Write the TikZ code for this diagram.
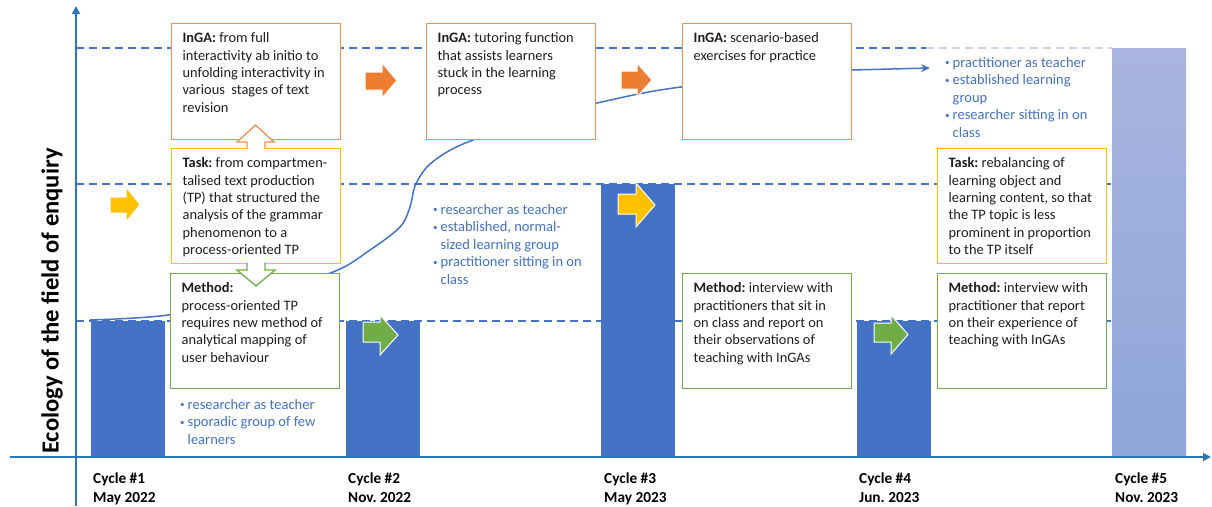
\documentclass[tikz,border=0pt]{standalone}
\usepackage{fontspec}
\setmainfont{Carlito}
\usetikzlibrary{arrows.meta}
\frenchspacing
\definecolor{barblue}{RGB}{68,114,196}
\definecolor{axisblue}{RGB}{46,117,182}
\definecolor{obord}{RGB}{241,144,86}
\definecolor{ofill}{RGB}{237,125,49}
\definecolor{ybord}{RGB}{255,192,0}
\definecolor{gbord}{RGB}{112,173,71}
\definecolor{txt}{RGB}{30,30,30}
\definecolor{bultxt}{RGB}{68,114,196}
\definecolor{lightdash}{RGB}{200,213,240}
\definecolor{cfivetop}{RGB}{169,181,222}
\definecolor{cfivebot}{RGB}{142,166,218}
\newcommand\boxfont{\fontsize{14.4}{17.35}\selectfont}
\newcommand\bulfont{\fontsize{14.5}{17.5}\selectfont}
\newcommand\cycfont{\bfseries\fontsize{15.3}{19}\selectfont}
\newcommand\boxtext[2]{\parbox[c][#1pt][t]{147pt}{\begin{tabular}[t]{@{}l@{}}#2\end{tabular}}}
\newcommand\bul{\makebox[7.5pt][l]{\fontsize{9}{9}\selectfont\raisebox{1.5pt}{•}}}
\newcommand\bulind{\hspace*{7.5pt}}
\newcommand\blockarrow[8]{%
  \fill[#8, draw=white, line width=1pt] (#1,#6) -- (#3,#6) -- (#3,#4) -- (#2,{(#4+#5)/2}) -- (#3,#5) -- (#3,#7) -- (#1,#7) -- cycle;}
\begin{document}
\begin{tikzpicture}[x=1pt,y=-1pt,
  dashln/.style={barblue, line width=1.2pt, dash pattern=on 8pt off 5pt},
  axisln/.style={axisblue, line width=1.8pt, -{Triangle[length=8pt,width=8pt]}},
  tbox/.style={line width=1.3pt, fill=white, anchor=north west, inner xsep=11pt, inner ysep=7pt, text=txt, font=\boxfont},
  barfill/.style={fill=barblue},
  bullist/.style={anchor=base west, inner sep=0pt, text=bultxt, font=\bulfont},
  cyclab/.style={anchor=base west, inner sep=0pt, text=black, font=\cycfont},
  curveln/.style={barblue, line width=1.5pt, -{Stealth[length=9pt,width=8pt]}}
]
\useasboundingbox (0,0) rectangle (1212,506);
\fill[white] (0,0) rectangle (1212,506);

% dashed levels
\draw[dashln] (76,48) -- (926,48);
\draw[dashln, draw=lightdash] (926,48) -- (1112,48);
\draw[dashln] (76,184) -- (1112,184);
\draw[dashln] (76,321) -- (1112,321);

% bars
\fill[barfill] (91,321) rectangle (165,457);
\fill[barfill] (346,321) rectangle (420,457);
\fill[barfill] (601,184) rectangle (675,457);
\fill[barfill] (857,321) rectangle (931,457);
\shade[top color=cfivetop, bottom color=cfivebot] (1112,48) rectangle (1186,457);

% development curve
\coordinate (cs) at (90,320);
\coordinate (ce) at (930,68);
\draw[curveln] plot[smooth, tension=0.55] coordinates {(cs) (168,315) (250,297) (333,272) (370,250) (400,227) (410,207) (415,186) (427,167) (447,152) (473,140) (535,118) (597,103) (681,87) (852,70)} -- (ce);

% boxes
\node[tbox, draw=obord] (inga1) at (171,23) {\boxtext{102}{\textbf{InGA:} from full\\interactivity ab initio to\\unfolding interactivity in\\various\ \ stages of text\\revision}};
\node[tbox, draw=ybord] (task1) at (171,148) {\boxtext{101}{\textbf{Task:} from compartmen-\\talised text production\\(TP) that structured the\\analysis of the grammar\\phenomenon to a\\process-oriented TP}};
\node[tbox, draw=gbord] (meth1) at (170,273) {\boxtext{101}{\textbf{Method:}\\process-oriented TP\\requires new method of\\analytical mapping of\\user behaviour}};
\node[tbox, draw=obord] (inga2) at (426,23) {\boxtext{102}{\textbf{InGA:} tutoring function\\that assists learners\\stuck in the learning\\process}};
\node[tbox, draw=obord] (inga3) at (682,23) {\boxtext{102}{\textbf{InGA:} scenario-based\\exercises for practice}};
\node[tbox, draw=gbord] (meth2) at (682,273) {\boxtext{101}{\textbf{Method:} interview with\\practitioners that sit in\\on class and report on\\their observations of\\teaching with InGAs}};
\node[tbox, draw=ybord] (task2) at (937,148) {\boxtext{101}{\textbf{Task:} rebalancing of\\learning object and\\learning content, so that\\the TP topic is less\\prominent in proportion\\to the TP itself}};
\node[tbox, draw=gbord] (meth3) at (937,273) {\boxtext{101}{\textbf{Method:} interview with\\practitioner that report\\on their experience of\\teaching with InGAs}};

% hollow arrows between boxes
\fill[white] (247,150) -- (247,142) -- (237,142) -- (255.5,125) -- (274,142) -- (265,142) -- (265,150) -- cycle;
\draw[obord, line width=1.3pt] (247,148.6) -- (247,142) -- (237,142) -- (255.5,125) -- (274,142) -- (265,142) -- (265,148.6);
\fill[white] (247,262) -- (247,270) -- (237,270) -- (256,286) -- (275,270) -- (265,270) -- (265,262) -- cycle;
\draw[gbord, line width=1.3pt] (247,262.5) -- (247,270) -- (237,270) -- (256,286) -- (275,270) -- (265,270) -- (265,262.5);

% block arrows
\blockarrow{110}{140}{126}{187}{222}{197}{213}{ybord}
\blockarrow{365}{397}{382}{63}{98}{72}{90}{ofill}
\blockarrow{621}{652}{637}{63}{97}{71}{89}{ofill}
\blockarrow{618}{655}{636}{183}{227}{194}{214}{ybord}
\blockarrow{363}{398}{380}{315}{355}{322}{342}{gbord}
\blockarrow{874}{908}{891}{315}{354}{323}{342}{gbord}

% bullet lists
\node[bullist] (bul1) at (180,409) {\parbox[t]{170pt}{\raggedright\bul researcher as teacher\\\bul sporadic group of few\\\bulind learners}};
\node[bullist] (bul2) at (433,214) {\parbox[t]{170pt}{\raggedright\bul researcher as teacher\\\bul established, normal-\\\bulind sized learning group\\\bul practitioner sitting in on\\\bulind class}};
\node[bullist] (bul3) at (945,67.3) {\parbox[t]{170pt}{\raggedright\bul practitioner as teacher\\\bul established learning\\\bulind group\\\bul researcher sitting in on\\\bulind class}};

% axes
\draw[axisln] (76,506) -- (76,6);
\draw[axisln] (10,457) -- (1211,457);
\node[rotate=90, font=\bfseries\fontsize{24.6}{28}\selectfont, text=black] (ylab) at (52,301) {Ecology of the field of enquiry};

% cycle labels
\node[cyclab] (cyc1) at (93,483) {\parbox[t]{100pt}{Cycle \#1\\May 2022}};
\node[cyclab] (cyc2) at (348,483) {\parbox[t]{100pt}{Cycle \#2\\Nov. 2022}};
\node[cyclab] (cyc3) at (604,483) {\parbox[t]{100pt}{Cycle \#3\\May 2023}};
\node[cyclab] (cyc4) at (859,483) {\parbox[t]{100pt}{Cycle \#4\\Jun. 2023}};
\node[cyclab] (cyc5) at (1115,483) {\parbox[t]{100pt}{Cycle \#5\\Nov. 2023}};
\end{tikzpicture}
\end{document}
